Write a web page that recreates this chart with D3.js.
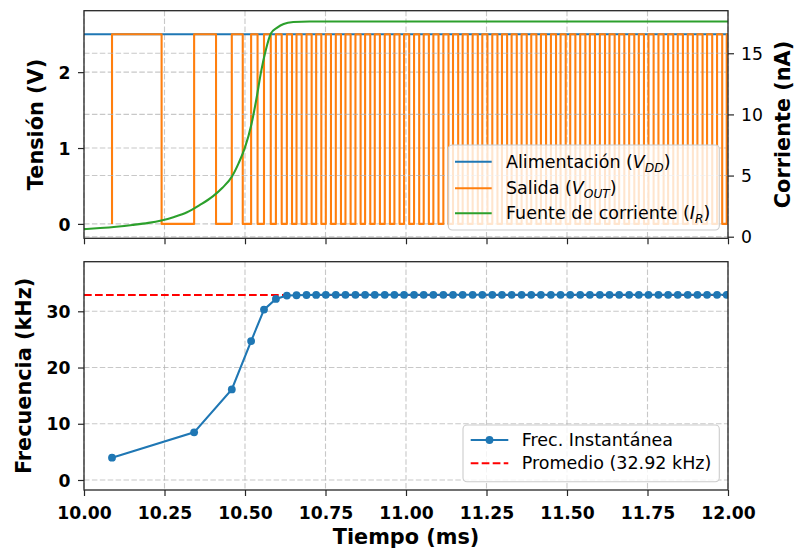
<!DOCTYPE html>
<html>
<head>
<meta charset="utf-8">
<script src="https://cdn.jsdelivr.net/npm/d3@7"></script>
<style>
  body { margin: 0; background: #ffffff; }
  text { font-family: "DejaVu Sans", sans-serif; }
</style>
</head>
<body>
<div id="chart"></div>
<script>
// ---- data ----------------------------------------------------------------
const timeDomain = [10.0, 12.0];                       // ms
const timeTicks = [10.00, 10.25, 10.50, 10.75, 11.00, 11.25, 11.50, 11.75, 12.00];
const voltTicks = [0, 1, 2];
const currentTicks = [0, 5, 10, 15];
const freqTicks = [0, 10, 20, 30];

const vddLevel = 2.5;     // V
const voutHigh = 2.5;     // V
const voutLow = 0;        // V

// output comparator edges (ms)
const voutRise = [
  10.087, 10.342, 10.459, 10.519, 10.559, 10.596,
  10.630, 10.660, 10.691, 10.721, 10.751, 10.782, 10.812, 10.843, 10.873, 10.903,
  10.934, 10.964, 10.994, 11.025, 11.055, 11.085, 11.116, 11.146, 11.176, 11.207,
  11.237, 11.268, 11.298, 11.328, 11.359, 11.389, 11.419, 11.450, 11.480, 11.510,
  11.541, 11.571, 11.602, 11.632, 11.662, 11.693, 11.723, 11.753, 11.784, 11.814,
  11.844, 11.875, 11.905, 11.935, 11.966, 11.996
];
const voutFall = [
  10.241, 10.410, 10.493, 10.539, 10.580, 10.614,
  10.646, 10.676, 10.707, 10.737, 10.767, 10.798, 10.828, 10.859, 10.889, 10.919,
  10.950, 10.980, 11.010, 11.041, 11.071, 11.101, 11.132, 11.162, 11.192, 11.223,
  11.253, 11.284, 11.314, 11.344, 11.375, 11.405, 11.435, 11.466, 11.496, 11.526,
  11.557, 11.587, 11.618, 11.648, 11.678, 11.709, 11.739, 11.769, 11.800, 11.830,
  11.860, 11.891, 11.921, 11.951, 11.982
];

// bias current source start-up (nA)
const irTime = [10.00, 10.05, 10.10, 10.15, 10.20, 10.24, 10.28, 10.32, 10.36, 10.40,
                10.43, 10.46, 10.48, 10.50, 10.52, 10.535, 10.55, 10.565, 10.58, 10.60,
                10.62, 10.65, 10.70, 12.00];
const irNA   = [0.62, 0.71, 0.82, 0.96, 1.13, 1.33, 1.62, 2.00, 2.60, 3.30,
                4.00, 4.95, 6.00, 7.30, 9.20, 11.2, 13.5, 15.3, 16.6, 17.1,
                17.4, 17.55, 17.6, 17.6];

// instantaneous frequency, one value per rising edge (kHz)
const freqTime = voutRise;
const freqKHz = [
  3.96, 8.47, 16.1, 24.7, 30.3, 32.2, 32.8, 32.85, 32.9, 32.92,
  32.93, 32.93, 32.93, 32.93, 32.93, 32.93, 32.93, 32.93, 32.93, 32.93,
  32.93, 32.93, 32.93, 32.93, 32.93, 32.93, 32.93, 32.93, 32.93, 32.93,
  32.93, 32.93, 32.93, 32.93, 32.93, 32.93, 32.93, 32.93, 32.93, 32.93,
  32.93, 32.93, 32.93, 32.93, 32.93, 32.93, 32.93, 32.93, 32.93, 32.93,
  32.93, 32.93
];
const freqAvgKHz = 32.92;

// ---- layout ----------------------------------------------------------------
const W = 795, H = 553;
const left = 84, right = 728;
const top1 = 10.7, bot1 = 238.3;
const top2 = 261.7, bot2 = 490;

const C = { blue: "#1f77b4", orange: "#ff7f0e", green: "#2ca02c", red: "#ff0000",
            grid: "#b0b0b0", spine: "#262626" };
const tickFont = 17.2, labelFont = 20.8, legendFont = 17.5;

const svg = d3.select("#chart").append("svg").attr("width", W).attr("height", H);

const x = d3.scaleLinear().domain(timeDomain).range([left, right]);
const yV = d3.scaleLinear().domain([-0.19, 2.81]).range([bot1, top1]);
const yI = d3.scaleLinear().domain([-0.13, 18.48]).range([bot1, top1]);
const yF = d3.scaleLinear().domain([-1.78, 38.82]).range([bot2, top2]);

const defs = svg.append("defs");
defs.append("clipPath").attr("id", "clipTop").append("rect")
  .attr("x", left).attr("y", top1).attr("width", right - left).attr("height", bot1 - top1);
defs.append("clipPath").attr("id", "clipBot").append("rect")
  .attr("x", left).attr("y", top2).attr("width", right - left).attr("height", bot2 - top2);

function gridLines(g, xs, ys, yScale, yTop, yBot) {
  g.selectAll(null).data(xs).join("line")
    .attr("x1", d => x(d)).attr("x2", d => x(d)).attr("y1", yTop).attr("y2", yBot);
  g.selectAll(null).data(ys).join("line")
    .attr("x1", left).attr("x2", right).attr("y1", d => yScale(d)).attr("y2", d => yScale(d));
  g.attr("stroke", C.grid).attr("stroke-opacity", 0.7).attr("stroke-width", 1.1)
   .attr("stroke-dasharray", "5.5,2.4");
}

// ---- top panel: voltages and bias current ----------------------------------
const gTopGrid = svg.append("g");
gridLines(gTopGrid, timeTicks, voltTicks, yV, top1, bot1);

const pTop = svg.append("g").attr("clip-path", "url(#clipTop)");
const lineV = d3.line().x(d => x(d[0])).y(d => yV(d[1]));

pTop.append("path")
  .attr("d", lineV([[timeDomain[0], vddLevel], [timeDomain[1], vddLevel]]))
  .attr("fill", "none").attr("stroke", C.blue).attr("stroke-width", 2.1);

const voutPts = [];
voutRise.forEach((r, i) => {
  voutPts.push([r, voutLow], [r, voutHigh]);
  if (i < voutFall.length) voutPts.push([voutFall[i], voutHigh], [voutFall[i], voutLow]);
  else voutPts.push([timeDomain[1], voutHigh]);
});
pTop.append("path").attr("d", lineV(voutPts))
  .attr("fill", "none").attr("stroke", C.orange).attr("stroke-width", 2.1)
  .attr("stroke-linejoin", "round");

// twin axis (current) grid and curve drawn above
const gTopGrid2 = svg.append("g");
gridLines(gTopGrid2, [], currentTicks, yI, top1, bot1);

const lineI = d3.line().x((d, i) => x(irTime[i])).y(d => yI(d)).curve(d3.curveMonotoneX);
svg.append("g").attr("clip-path", "url(#clipTop)").append("path")
  .attr("d", lineI(irNA))
  .attr("fill", "none").attr("stroke", C.green).attr("stroke-width", 2.1);

// ---- bottom panel: frequency ------------------------------------------------
const gBotGrid = svg.append("g");
gridLines(gBotGrid, timeTicks, freqTicks, yF, top2, bot2);

const pBot = svg.append("g").attr("clip-path", "url(#clipBot)");
pBot.append("line")
  .attr("x1", left).attr("x2", right)
  .attr("y1", yF(freqAvgKHz)).attr("y2", yF(freqAvgKHz))
  .attr("stroke", C.red).attr("stroke-width", 2).attr("stroke-dasharray", "7.7,3.3");
const lineF = d3.line().x((d, i) => x(freqTime[i])).y(d => yF(d));
pBot.append("path").attr("d", lineF(freqKHz))
  .attr("fill", "none").attr("stroke", C.blue).attr("stroke-width", 2.1);
pBot.selectAll("circle").data(freqKHz).join("circle")
  .attr("cx", (d, i) => x(freqTime[i])).attr("cy", d => yF(d)).attr("r", 3.9)
  .attr("fill", C.blue);

// ---- axes --------------------------------------------------------------------
function styleAxis(g, bold) {
  g.select(".domain").remove();
  g.selectAll(".tick line").attr("stroke", C.spine).attr("stroke-width", 1.2);
  g.selectAll(".tick text").attr("fill", "#000")
    .style("font-size", tickFont + "px")
    .style("font-weight", bold ? "bold" : "normal")
    .style("font-family", '"DejaVu Sans", sans-serif');
}

// top panel: ticks only on the shared time axis
svg.append("g").attr("transform", `translate(0,${bot1})`)
  .call(d3.axisBottom(x).tickValues(timeTicks).tickSize(6).tickFormat(""))
  .call(g => styleAxis(g, true));
svg.append("g").attr("transform", `translate(${left},0)`)
  .call(d3.axisLeft(yV).tickValues(voltTicks).tickSize(6).tickPadding(7.5).tickFormat(d3.format("d")))
  .call(g => styleAxis(g, true))
  .call(g => g.selectAll(".tick text").attr("dy", "0.36em"));
svg.append("g").attr("transform", `translate(${right},0)`)
  .call(d3.axisRight(yI).tickValues(currentTicks).tickSize(6).tickPadding(7).tickFormat(d3.format("d")))
  .call(g => styleAxis(g, false))
  .call(g => g.selectAll(".tick text").attr("dy", "0.36em"));

// bottom panel
svg.append("g").attr("transform", `translate(0,${bot2})`)
  .call(d3.axisBottom(x).tickValues(timeTicks).tickSize(6).tickFormat(d3.format(".2f")))
  .call(g => styleAxis(g, true))
  .call(g => g.selectAll(".tick text").attr("y", 29).attr("dy", 0));
svg.append("g").attr("transform", `translate(${left},0)`)
  .call(d3.axisLeft(yF).tickValues(freqTicks).tickSize(6).tickPadding(7.5).tickFormat(d3.format("d")))
  .call(g => styleAxis(g, true))
  .call(g => g.selectAll(".tick text").attr("dy", "0.36em"));

// spines
[[top1, bot1], [top2, bot2]].forEach(([t, b]) => {
  svg.append("rect").attr("x", left).attr("y", t).attr("width", right - left).attr("height", b - t)
    .attr("fill", "none").attr("stroke", C.spine).attr("stroke-width", 1.3);
});

// axis titles
function axisTitle(txt, tx, ty, rot) {
  svg.append("text").attr("transform", `translate(${tx},${ty}) rotate(${rot})`)
    .attr("text-anchor", "middle").style("font-size", labelFont + "px")
    .style("font-weight", "bold").attr("fill", "#000").text(txt);
}
axisTitle("Tensión (V)", 42.5, (top1 + bot1) / 2, -90);
axisTitle("Corriente (nA)", 789.5, (top1 + bot1) / 2, -90);
axisTitle("Frecuencia (kHz)", 30.5, (top2 + bot2) / 2, -90);
axisTitle("Tiempo (ms)", (left + right) / 2, 544, 0);

// ---- legends -----------------------------------------------------------------
function legendBox(x0, y0, x1, y1) {
  svg.append("rect").attr("x", x0).attr("y", y0).attr("width", x1 - x0).attr("height", y1 - y0)
    .attr("rx", 4).attr("fill", "#fff").attr("fill-opacity", 0.8)
    .attr("stroke", "#cccccc").attr("stroke-width", 1.1);
}
function legendLabel(tx, ty, plain, sym, sub) {
  const t = svg.append("text").attr("x", tx).attr("y", ty)
    .style("font-size", legendFont + "px").attr("fill", "#000");
  t.append("tspan").text(plain);
  if (sym) {
    t.append("tspan").style("font-style", "italic").text(sym);
    t.append("tspan").style("font-style", "italic").style("font-size", (legendFont * 0.7) + "px")
      .attr("dy", 4).text(sub);
    t.append("tspan").attr("dy", -4).text(")");
  }
}

legendBox(448.3, 145, 719.3, 230);
const topLegend = [
  { color: C.blue, y: 161.7, plain: "Alimentación (", sym: "V", sub: "DD" },
  { color: C.orange, y: 188.3, plain: "Salida (", sym: "V", sub: "OUT" },
  { color: C.green, y: 213.3, plain: "Fuente de corriente (", sym: "I", sub: "R" }
];
topLegend.forEach(e => {
  svg.append("line").attr("x1", 455).attr("x2", 491.7).attr("y1", e.y).attr("y2", e.y)
    .attr("stroke", e.color).attr("stroke-width", 2.1);
  legendLabel(506, e.y + 5.8, e.plain, e.sym, e.sub);
});

legendBox(463, 425, 719.3, 481.7);
svg.append("line").attr("x1", 470.7).attr("x2", 508.3).attr("y1", 440).attr("y2", 440)
  .attr("stroke", C.blue).attr("stroke-width", 2.1);
svg.append("circle").attr("cx", 489.5).attr("cy", 440).attr("r", 3.9).attr("fill", C.blue);
legendLabel(521.7, 446, "Frec. Instantánea");
svg.append("line").attr("x1", 470.7).attr("x2", 508.3).attr("y1", 463.3).attr("y2", 463.3)
  .attr("stroke", C.red).attr("stroke-width", 2).attr("stroke-dasharray", "7.7,3.3");
legendLabel(521.7, 469.3, `Promedio (${freqAvgKHz.toFixed(2)} kHz)`);
</script>
</body>
</html>
